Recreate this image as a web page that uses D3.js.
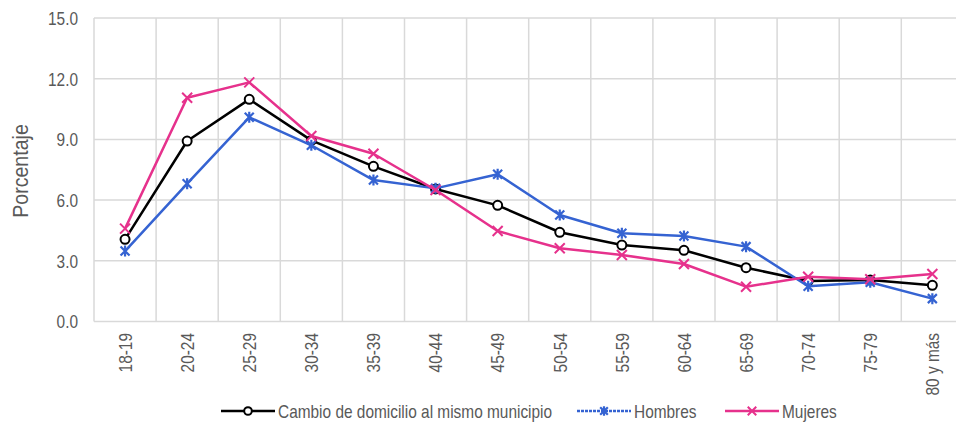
<!DOCTYPE html>
<meta charset="utf-8">
<style>
body { margin: 0; background: #fff; }
text { font-family: "Liberation Sans", Arial, sans-serif; fill: #595959; }
</style>
<body>
<script src="https://d3js.org/d3.v7.min.js"></script>
<script>
var width = 956,
    height = 424;

var grupos = ["18-19", "20-24", "25-29", "30-34", "35-39", "40-44", "45-49",
  "50-54", "55-59", "60-64", "65-69", "70-74", "75-79", "80 y más"];
var cambio = [4.06, 8.92, 10.98, 8.95, 7.67, 6.55, 5.74, 4.41, 3.78, 3.52, 2.66, 2.00, 2.05, 1.79];
var hombres = [3.48, 6.81, 10.09, 8.71, 6.99, 6.58, 7.28, 5.26, 4.36, 4.23, 3.70, 1.74, 1.94, 1.13];
var mujeres = [4.59, 11.06, 11.82, 9.17, 8.29, 6.50, 4.47, 3.62, 3.29, 2.84, 1.72, 2.21, 2.09, 2.35];
var yTicks = [0, 3, 6, 9, 12, 15];

var series = [
  {name: "Cambio de domicilio al mismo municipio", values: cambio, color: "#000000", marker: "circle"},
  {name: "Hombres", values: hombres, color: "#3563d2", marker: "star"},
  {name: "Mujeres", values: mujeres, color: "#e6318c", marker: "x"}
];

// no narrow font installed, so squeeze the regular one
var narrow = " scale(0.82,1)";

var svg = d3.select("body").append("svg")
    .attr("width", width)
    .attr("height", height);

var x = d3.scaleBand()
    .domain(grupos)
    .range([94, 963.4]);

var y = d3.scaleLinear()
    .domain([0, 15])
    .range([321.5, 18]);

// grid
var grid = svg.append("g");
grid.selectAll(".hg")
  .data(yTicks)
  .enter().append("line")
    .attr("x1", x.range()[0])
    .attr("x2", x.range()[1])
    .attr("y1", function(d) { return y(d); })
    .attr("y2", function(d) { return y(d); })
    .style("stroke", "#d9d9d9")
    .style("stroke-width", 1.5);
grid.selectAll(".vg")
  .data(grupos.concat(["end"]))
  .enter().append("line")
    .attr("x1", function(d, i) { return x.range()[0] + i * x.step(); })
    .attr("x2", function(d, i) { return x.range()[0] + i * x.step(); })
    .attr("y1", y(0))
    .attr("y2", y(15))
    .style("stroke", "#d9d9d9")
    .style("stroke-width", 1.5);

// y axis labels
svg.append("g").selectAll("text")
  .data(yTicks)
  .enter().append("text")
    .attr("transform", function(d) { return "translate(78," + (y(d) + 6.8) + ")" + narrow; })
    .attr("text-anchor", "end")
    .style("font-size", "18.8px")
    .text(function(d) { return d3.format(".1f")(d); });

svg.append("text")
    .attr("transform", "translate(28,171) rotate(-90) scale(0.87,1)")
    .attr("text-anchor", "middle")
    .style("font-size", "22.5px")
    .text("Porcentaje");

// x axis labels
svg.append("g").selectAll("text")
  .data(grupos)
  .enter().append("text")
    .attr("transform", function(d) {
      return "translate(" + (x(d) + x.bandwidth() / 2 + 6.8) + ",333) rotate(-90)" + narrow;
    })
    .attr("text-anchor", "end")
    .style("font-size", "18.8px")
    .text(function(d) { return d; });

var line = d3.line()
    .x(function(d, i) { return x(grupos[i]) + x.bandwidth() / 2; })
    .y(function(d) { return y(d); });

function drawMarker(g, type, color, k) {
  if (type == "circle") {
    g.append("circle").attr("r", 4.5 * k)
      .style("fill", "#fff").style("stroke", color).style("stroke-width", 2);
  } else if (type == "x") {
    g.append("path").attr("d", "M-5,-5L5,5M-5,5L5,-5")
      .attr("transform", "scale(" + k + ")")
      .style("stroke", color).style("stroke-width", 2 / k).style("fill", "none");
  } else {
    g.append("path").attr("d", "M-4.5,-4.5L4.5,4.5M-4.5,4.5L4.5,-4.5M0,-5.5L0,5.5")
      .attr("transform", "scale(" + k + ")")
      .style("stroke", color).style("stroke-width", 2.2 / k).style("fill", "none");
  }
}

series.forEach(function(s) {
  svg.append("path")
    .datum(s.values)
    .attr("d", line)
    .style("fill", "none")
    .style("stroke", s.color)
    .style("stroke-width", 2.5)
    .style("stroke-linejoin", "round");
  s.values.forEach(function(v, i) {
    var g = svg.append("g")
      .attr("transform", "translate(" + (x(grupos[i]) + x.bandwidth() / 2) + "," + y(v) + ")");
    drawMarker(g, s.marker, s.color, 1);
  });
});

// legend
var legX = [221, 577, 725];
var legend = svg.append("g");
series.forEach(function(s, i) {
  var g = legend.append("g").attr("transform", "translate(" + legX[i] + ",411)");
  g.append("line")
    .attr("x1", 0).attr("x2", 54)
    .style("stroke", s.color)
    .style("stroke-width", 2.5)
    .style("stroke-dasharray", s.marker == "star" ? "3,1" : null);
  var m = g.append("g").attr("transform", "translate(27,0)");
  drawMarker(m, s.marker, s.color, 0.85);
  g.append("text")
    .attr("transform", "translate(57,6.8)" + narrow)
    .style("font-size", "18.8px")
    .text(s.name);
});
</script>
</body>
</html>
